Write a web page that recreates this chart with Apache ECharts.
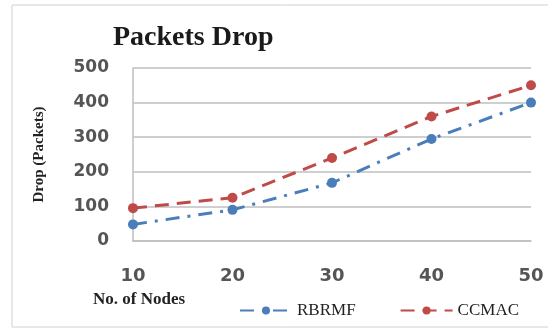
<!DOCTYPE html>
<html>
<head>
<meta charset="utf-8">
<script src="https://cdn.jsdelivr.net/npm/echarts@6/dist/echarts.min.js"></script>
<style>
  html, body { margin: 0; padding: 0; background: #fff; }
  #chart { width: 548px; height: 329px; }
</style>
</head>
<body>
<div id="chart"></div>
<script>
var nodes = ['10', '20', '30', '40', '50'];
var rbrmf = [48, 90, 168, 295, 400];
var ccmac = [95, 125, 240, 360, 450];
var yTicks = [0, 100, 200, 300, 400, 500];

var chart = echarts.init(document.getElementById('chart'));
chart.setOption({
  backgroundColor: '#fff',
  animation: false,
  title: {
    text: 'Packets Drop',
    left: 108,
    top: 19,
    textStyle: { fontFamily: 'Liberation Serif', fontWeight: 'bold', fontSize: 28, color: '#1a1a1a' }
  },
  graphic: [
    {
      type: 'rect',
      shape: { x: 12, y: 5, width: 560, height: 322 },
      style: { fill: 'none', stroke: '#d0d0d0', lineWidth: 1 }
    },
    {
      type: 'text',
      left: 93,
      top: 291,
      style: {
        text: 'No. of Nodes',
        font: 'bold 17px "Liberation Serif"',
        fill: '#222'
      }
    }
  ],
  legend: {
    left: 234,
    top: 297,
    itemWidth: 52,
    itemHeight: 10,
    itemGap: 44,
    textStyle: { fontFamily: 'Liberation Serif', fontSize: 17, color: '#222' },
    data: ['RBRMF', 'CCMAC']
  },
  grid: { left: 133, right: 17, top: 68, bottom: 88 },
  xAxis: {
    type: 'category',
    boundaryGap: false,
    data: nodes,
    axisLine: { show: true, lineStyle: { color: '#bfbfbf', width: 1.5 } },
    axisTick: { show: false },
    axisLabel: { margin: 26, fontFamily: 'DejaVu Sans', fontWeight: 'bold', fontSize: 18, color: '#555' },
    splitLine: { show: false }
  },
  yAxis: {
    type: 'value',
    min: yTicks[0],
    max: yTicks[yTicks.length - 1],
    interval: 100,
    name: 'Drop (Packets)',
    nameLocation: 'middle',
    nameGap: 86,
    nameTextStyle: { fontFamily: 'Liberation Serif', fontWeight: 'bold', fontSize: 15, color: '#222' },
    axisLine: { show: true, lineStyle: { color: '#bfbfbf', width: 1.5 } },
    axisTick: { show: false },
    axisLabel: { margin: 24, fontFamily: 'DejaVu Sans', fontWeight: 'bold', fontSize: 17, color: '#555' },
    splitLine: { lineStyle: { color: '#bfbfbf', width: 1.5 } }
  },
  series: [
    {
      name: 'RBRMF',
      type: 'line',
      data: rbrmf,
      symbol: 'circle',
      symbolSize: 10,
      itemStyle: { color: '#4a7ebb' },
      lineStyle: { width: 3, type: [14, 8, 3, 8], color: '#4a7ebb' }
    },
    {
      name: 'CCMAC',
      type: 'line',
      data: ccmac,
      symbol: 'circle',
      symbolSize: 10,
      itemStyle: { color: '#be4b48' },
      lineStyle: { width: 3, type: [14, 8], color: '#be4b48' }
    }
  ]
});
</script>
</body>
</html>
